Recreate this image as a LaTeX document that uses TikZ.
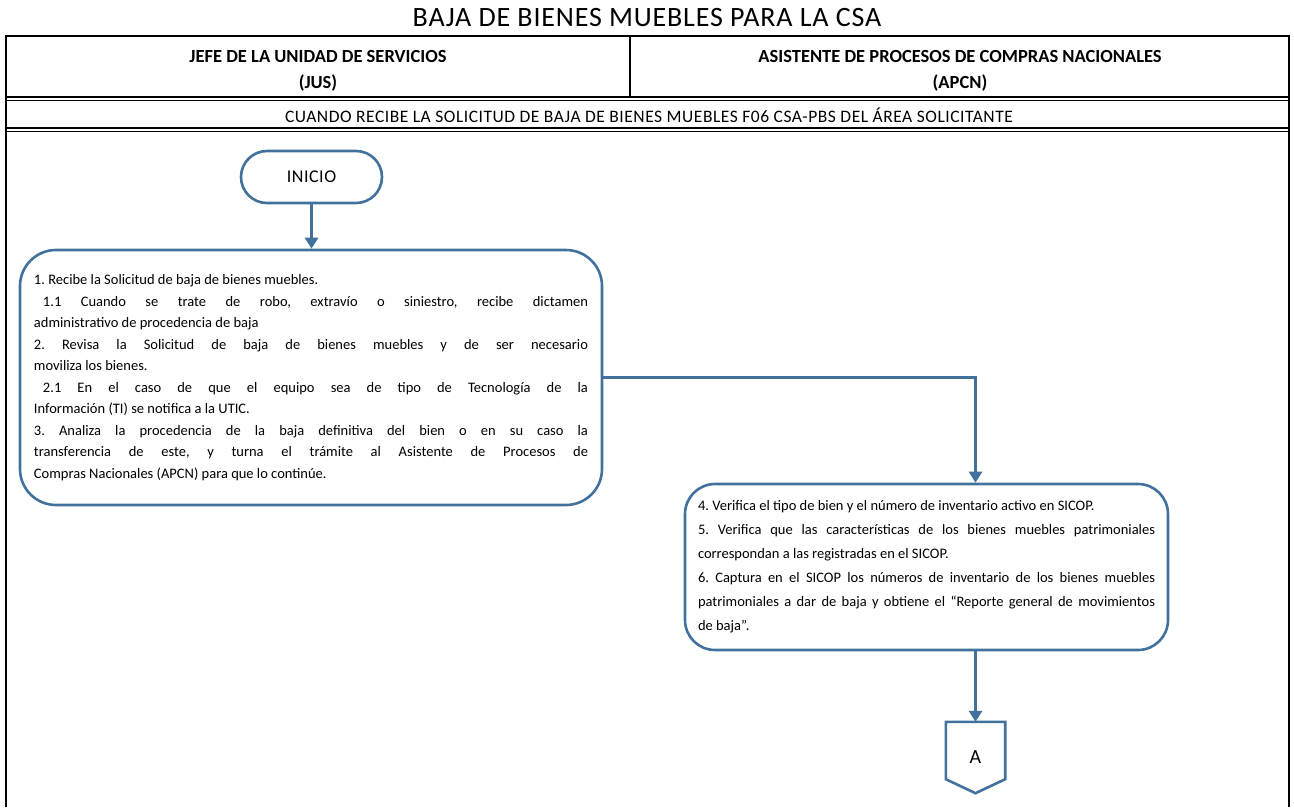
\documentclass[tikz,border=0pt]{standalone}
\usepackage{fontspec}
\setmainfont{Carlito}
\usetikzlibrary{positioning,arrows.meta}

\definecolor{azul}{RGB}{65,113,156}
\frenchspacing

\begin{document}
\begin{tikzpicture}[x=1pt, y=-1pt]

\tikzstyle{caja}=[rectangle, rounded corners=36pt, draw=azul, line width=2.6pt, align=justify, inner sep=0pt, font=\fontsize{14.5}{21.5}\selectfont]
\tikzstyle{terminal}=[rectangle, rounded corners=26pt, draw=azul, line width=2.6pt, minimum width=141pt, minimum height=52pt, font=\fontsize{18}{20}\selectfont]
\tikzstyle{flecha}=[-{Triangle[width=13pt, length=11pt]}, draw=azul, line width=3.5pt]
\tikzstyle{borde}=[line width=2pt]
\tikzstyle{doble}=[line width=1.3pt]
\tikzstyle{encabezado}=[align=center, font=\bfseries\fontsize{18.5}{26}\selectfont]

\useasboundingbox (0,0) rectangle (1294,807);

% titulo y tabla
\node (titulo) at (647,18) {\fontsize{28}{30}\selectfont\addfontfeature{LetterSpace=3}BAJA DE BIENES MUEBLES PARA LA CSA};
\draw[borde] (5,36) -- (1290,36);
\draw[borde] (6,35) -- (6,807);
\draw[borde] (1289,35) -- (1289,807);
\draw[line width=1.2pt] (630,36) -- (630,97);
\draw[doble] (6,97) -- (1289,97) (6,100.5) -- (1289,100.5);
\draw[doble] (6,128) -- (1289,128) (6,131.5) -- (1289,131.5);

\node[encabezado] (jus) at (318,71) {JEFE DE LA UNIDAD DE SERVICIOS\\(JUS)};
\node[encabezado] (apcn) at (960,71) {ASISTENTE DE PROCESOS DE COMPRAS NACIONALES\\(APCN)};
\node[font=\fontsize{17.5}{19}\selectfont\addfontfeature{LetterSpace=3}] (cuando) at (649,115) {CUANDO RECIBE LA SOLICITUD DE BAJA DE BIENES MUEBLES F06 CSA-PBS DEL ÁREA SOLICITANTE};

% diagrama
\node[terminal] (inicio) at (311.5,177) {\addfontfeature{LetterSpace=3}INICIO};

\node[caja, minimum width=582pt, minimum height=255pt, text width=554pt] (paso1) at (311,377.5) {%
1. Recibe la Solicitud de baja de bienes muebles.\par
\hspace*{9pt}1.1 Cuando se trate de robo, extravío o siniestro, recibe dictamen\linebreak
administrativo de procedencia de baja\par
2. Revisa la Solicitud de baja de bienes muebles y de ser necesario\linebreak
moviliza los bienes.\par
\hspace*{9pt}2.1 En el caso de que el equipo sea de tipo de Tecnología de la\linebreak
Información (TI) se notifica a la UTIC.\par
3. Analiza la procedencia de la baja definitiva del bien o en su caso la\linebreak
transferencia de este, y turna el trámite al Asistente de Procesos de\linebreak
Compras Nacionales (APCN) para que lo continúe.};

\node[caja, rounded corners=30pt, minimum width=483pt, minimum height=166pt, text width=457pt, font=\fontsize{14.5}{24}\selectfont] (paso2) at (926.5,567) {%
4. Verifica el tipo de bien y el número de inventario activo en SICOP.\par
5. Verifica que las características de los bienes muebles patrimoniales\linebreak
correspondan a las registradas en el SICOP.\par
6. Captura en el SICOP los números de inventario de los bienes muebles\linebreak
patrimoniales a dar de baja y obtiene el “Reporte general de movimientos\linebreak
de baja”.};

\node[minimum width=59pt, minimum height=71pt, inner sep=0pt, font=\fontsize{20}{22}\selectfont] (conA) at (975.5,757.5) {A};
\draw[azul, line width=2.6pt, line join=miter] (conA.north west) -- (conA.north east) -- ([yshift=14pt]conA.south east) -- (conA.south) -- ([yshift=14pt]conA.south west) -- cycle;

\draw[flecha] (inicio.south) -- (paso1.north -| inicio.south);
\draw[flecha] (paso1.east) -| (conA.north |- paso2.north);
\draw[flecha] (paso2.south -| conA.north) -- (conA.north);

\end{tikzpicture}
\end{document}
